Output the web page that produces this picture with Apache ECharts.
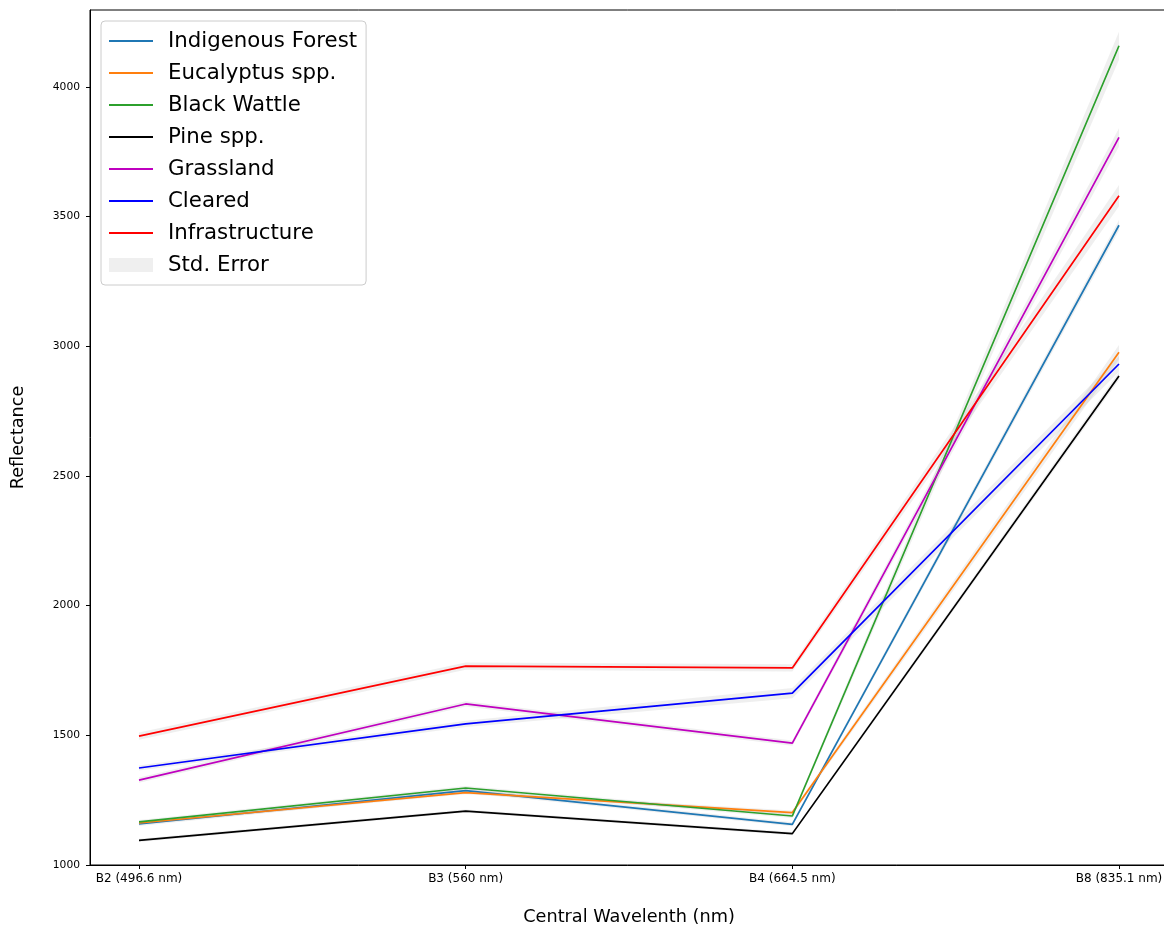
<!DOCTYPE html>
<html>
<head>
<meta charset="utf-8">
<title>Reflectance by band</title>
<script src="https://cdn.jsdelivr.net/npm/echarts@6/dist/echarts.min.js"></script>
<style>
    html, body { margin: 0; padding: 0; background: #fff; }
    #chart { width: 1164px; height: 927px; }
</style>
</head>
<body>
<div id="chart"></div>
<script>
    // band labels on the x axis
    var bandLabels = ['B2 (496.6 nm)', 'B3 (560 nm)', 'B4 (664.5 nm)', 'B8 (835.1 nm)'];
    var yTicks = [1000, 1500, 2000, 2500, 3000, 3500, 4000];

    var classNames = ['Indigenous Forest', 'Eucalyptus spp.', 'Black Wattle', 'Pine spp.', 'Grassland', 'Cleared', 'Infrastructure'];
    var classColors = ['#1f77b4', '#ff7f0e', '#2ca02c', '#000000', '#bf00bf', '#0000ff', '#ff0000'];

    // mean reflectance per class
    var indigenous     = [1158, 1287, 1157, 3467];
    var eucalyptus     = [1162, 1279, 1202, 2977];
    var blackWattle    = [1166, 1297, 1189, 4159];
    var pine           = [1095, 1208, 1121, 2886];
    var grassland      = [1327, 1621, 1470, 3806];
    var cleared        = [1374, 1544, 1663, 2932];
    var infrastructure = [1497, 1767, 1760, 3581];

    // std. error (half width of the grey band)
    var indigenousSe     = [8, 8, 8, 20];
    var eucalyptusSe     = [6, 6, 8, 28];
    var blackWattleSe    = [8, 8, 8, 54];
    var pineSe           = [6, 6, 6, 15];
    var grasslandSe      = [10, 10, 10, 35];
    var clearedSe        = [10, 12, 20, 30];
    var infrastructureSe = [14, 14, 14, 41];

    var means = [indigenous, eucalyptus, blackWattle, pine, grassland, cleared, infrastructure];
    var errors = [indigenousSe, eucalyptusSe, blackWattleSe, pineSe, grasslandSe, clearedSe, infrastructureSe];

    var chart = echarts.init(document.getElementById('chart'));

    var series = [];

    // all std. error bands in one custom series so they share a legend entry
    series.push({
        name: 'Std. Error',
        type: 'custom',
        z: 1,
        silent: true,
        itemStyle: { color: 'rgba(128,128,128,0.13)' },
        data: means.map(function (m, i) { return [i, m[0]]; }),
        renderItem: function (params, api) {
            var k = params.dataIndex;
            var upper = [], lower = [];
            for (var j = 0; j < bandLabels.length; j++) {
                upper.push(api.coord([j, means[k][j] + errors[k][j]]));
                lower.unshift(api.coord([j, means[k][j] - errors[k][j]]));
            }
            return {
                type: 'polygon',
                shape: { points: upper.concat(lower) },
                style: { fill: 'rgba(128,128,128,0.13)', stroke: null }
            };
        }
    });

    classNames.forEach(function (name, i) {
        series.push({
            name: name,
            type: 'line',
            z: 3,
            symbol: 'none',
            lineStyle: { color: classColors[i], width: 1.7 },
            itemStyle: { color: classColors[i] },
            data: means[i].map(function (v, j) { return [j, v]; })
        });
    });

    var legendData = classNames.map(function (n) { return { name: n }; });
    legendData.push({ name: 'Std. Error', icon: 'rect', itemStyle: { color: '#efefef', opacity: 1 } });

    chart.setOption({
        animation: false,
        backgroundColor: '#ffffff',
        textStyle: { fontFamily: 'DejaVu Sans' },
        grid: {
            left: 90, top: 10, width: 1078, height: 855,
            outerBoundsMode: 'none',
            containLabel: false,
            show: true, borderColor: '#000', borderWidth: 1
        },
        legend: {
            orient: 'vertical',
            left: 101, top: 21,
            padding: [8, 9, 8, 7],
            itemWidth: 44,
            itemHeight: 14,
            itemGap: 8,
            itemStyle: { opacity: 0 },
            backgroundColor: 'rgba(255,255,255,0.85)',
            borderColor: '#cccccc',
            borderWidth: 1,
            borderRadius: 4,
            textStyle: {
                fontSize: 21.3, color: '#000', lineHeight: 24,
                padding: [0, 0, 0, 10], fontFamily: 'DejaVu Sans'
            },
            data: legendData
        },
        xAxis: {
            type: 'value',
            min: -0.15, max: 3.15,
            name: 'Central Wavelenth (nm)',
            nameLocation: 'middle',
            nameGap: 43,
            nameTextStyle: { fontSize: 17.7, color: '#000' },
            splitLine: { show: false },
            axisLine: { onZero: false, lineStyle: { color: '#000', width: 1 } },
            axisTick: { customValues: [0, 1, 2, 3], length: 4, lineStyle: { color: '#000' } },
            axisLabel: {
                customValues: [0, 1, 2, 3],
                fontSize: 12, color: '#000', margin: 8,
                formatter: function (v) { return bandLabels[Math.round(v)]; }
            }
        },
        yAxis: {
            type: 'value',
            min: 1000, max: 4297,
            name: 'Reflectance',
            nameLocation: 'middle',
            nameGap: 63,
            nameTextStyle: { fontSize: 17.7, color: '#000' },
            splitLine: { show: false },
            axisLine: { show: true, onZero: false, lineStyle: { color: '#000', width: 1 } },
            axisTick: { show: true, customValues: yTicks, length: 4, lineStyle: { color: '#000' } },
            axisLabel: {
                customValues: yTicks, fontSize: 10.7, color: '#000', margin: 10,
                formatter: function (v) { return String(v); }
            }
        },
        series: series
    });
</script>
</body>
</html>
